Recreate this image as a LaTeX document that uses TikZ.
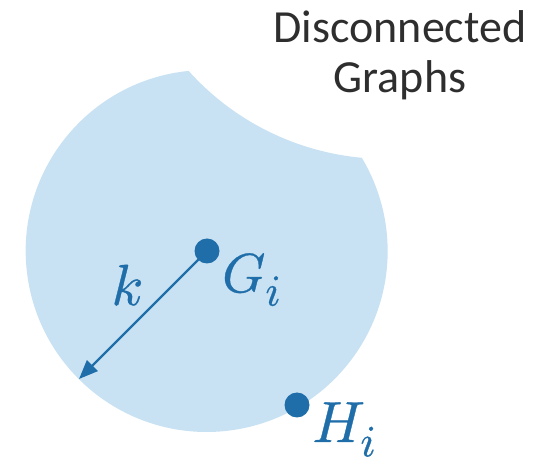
\documentclass[tikz,border=0pt]{standalone}
\usepackage{fontspec}
\usepackage{unicode-math}
\setmainfont{Carlito}
\setmathfont{Latin Modern Math}[FakeBold=0.6]
\usetikzlibrary{arrows.meta}
\definecolor{blobfill}{HTML}{C9E2F3}
\definecolor{darkblue}{HTML}{1F6EA9}
\definecolor{titlegray}{HTML}{2E2E2E}
\tikzset{
  blob/.style={fill=blobfill, draw=none},
  dot/.style={circle, fill=darkblue, draw=none, minimum size=25pt, inner sep=0pt},
  radiusarrow/.style={draw=darkblue, line width=2.4pt, -{Triangle[length=19pt,width=15pt]}},
  mathlabel/.style={text=darkblue, inner sep=0pt},
  titletext/.style={text=titlegray, inner sep=0pt, font=\fontsize{46}{55}\selectfont}
}
\begin{document}
\begin{tikzpicture}[x=1pt,y=1pt]
\useasboundingbox (0,0) rectangle (558,464);
% blob: circle with a concave bite
\fill[blob] (188.7,393.1) arc[start angle=95.7, end angle=391, radius=181]
   arc[start angle=264.8, end angle=221.9, radius=265] -- cycle;
\node[dot] (G) at (207,213) {};
\node[dot] (H) at (297,59) {};
\coordinate (kend) at (79,85);
\draw[radiusarrow] (G.center) -- (kend);
\node[mathlabel, anchor=base west, font=\fontsize{55}{66}\selectfont] (Glab) at (222,172) {$G_{\scalebox{1.15}{$\scriptstyle i$}}$};
\node[mathlabel, anchor=base west, font=\fontsize{58}{70}\selectfont] (Hlab) at (312,22) {$H_{\scalebox{1.1}{$\scriptstyle i$}}$};
\node[mathlabel, anchor=base, font=\fontsize{58}{70}\selectfont] (klab) at (127,159) {$k$};
\node[titletext, anchor=base] (t1) at (400,421) {Disconnected};
\node[titletext, anchor=base] (t2) at (400,371) {Graphs};
\end{tikzpicture}
\end{document}
